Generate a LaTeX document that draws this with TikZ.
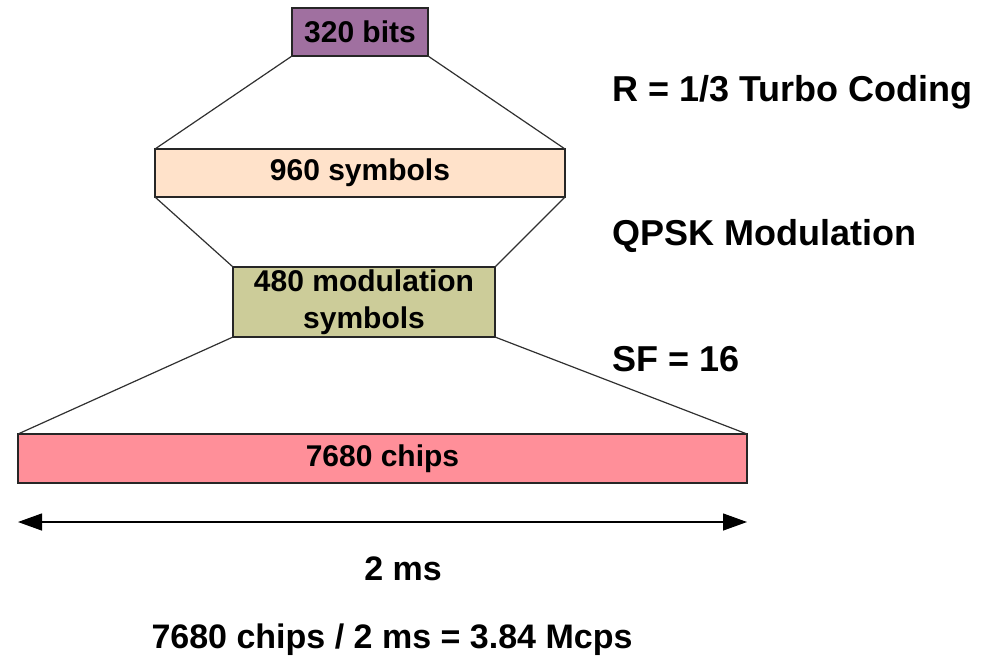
\documentclass[tikz,border=0pt]{standalone}
\usepackage{fontspec}
\setmainfont{Liberation Sans}
\usetikzlibrary{arrows.meta}
\definecolor{cpurple}{HTML}{A070A0}
\definecolor{cpeach}{HTML}{FFE2CA}
\definecolor{colive}{HTML}{CCCC99}
\definecolor{cpink}{HTML}{FF8F99}
\definecolor{cline}{HTML}{303030}
\tikzset{
  blk/.style={draw=black!85, line width=1.5pt, inner sep=0pt, outer sep=0pt,
    font=\fontsize{30}{37}\selectfont\bfseries, align=center},
  funnel/.style={draw=cline, line width=1.2pt},
  side/.style={anchor=base west, inner sep=0pt, font=\fontsize{36}{40}\selectfont\bfseries},
  bot/.style={anchor=base, inner sep=0pt, font=\fontsize{34}{40}\selectfont\bfseries}
}
\begin{document}
\begin{tikzpicture}[x=1pt,y=-1pt]
\useasboundingbox (0,0) rectangle (988,665);
\node[blk, fill=cpurple, minimum width=136pt, minimum height=48pt] (b1) at (360,32) {320 bits};
\node[blk, fill=cpeach, minimum width=410pt, minimum height=48pt] (b2) at (360,173) {960 symbols};
\node[blk, fill=colive, minimum width=262pt, minimum height=70pt] (b3) at (364,302) {480 modulation\\symbols};
\node[blk, fill=cpink, minimum width=729pt, minimum height=49pt] (b4) at (382.5,458.5) {7680 chips};
\draw[funnel] (b1.south west) -- (b2.north west);
\draw[funnel] (b1.south east) -- (b2.north east);
\draw[funnel] (b2.south west) -- (b3.north west);
\draw[funnel] (b2.south east) -- (b3.north east);
\draw[funnel] (b3.south west) -- (b4.north west);
\draw[funnel] (b3.south east) -- (b4.north east);
\node[side] (l1) at (612,101) {R = 1/3 Turbo Coding};
\node[side] (l2) at (612,245) {QPSK Modulation};
\node[side] (l3) at (612,371) {SF = 16};
\coordinate (al) at (18,522);
\coordinate (ar) at (747,522);
\draw[line width=1.3pt, {Triangle[length=24pt,width=17pt]}-{Triangle[length=24pt,width=17pt]}] (al) -- (ar);
\node[bot] (t1) at (403,580) {2 ms};
\node[bot] (t2) at (392,648) {7680 chips / 2 ms = 3.84 Mcps};
\end{tikzpicture}
\end{document}
